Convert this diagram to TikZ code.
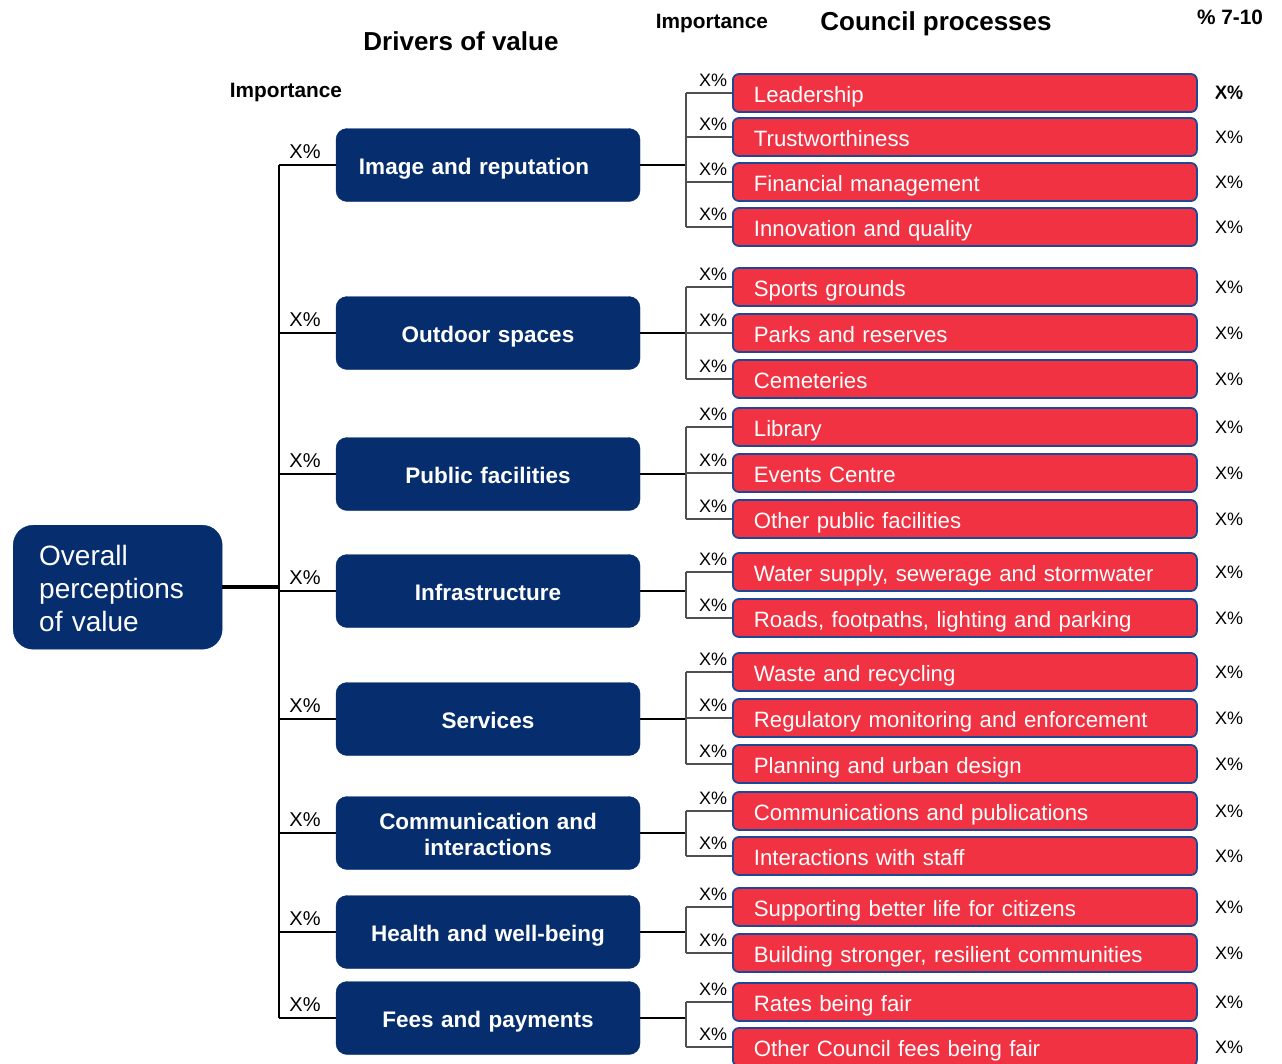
\documentclass[tikz,border=0pt]{standalone}
\usepackage{fontspec}
\setmainfont{Liberation Sans}
\definecolor{navy}{RGB}{6,46,110}
\definecolor{cred}{RGB}{240,50,66}
\definecolor{cborder}{RGB}{30,72,150}
\definecolor{lgray}{RGB}{80,80,80}
\begin{document}
\begin{tikzpicture}[x=1pt,y=-1pt,
  redbox/.style={draw=cborder,line width=1.8pt,fill=cred,rounded corners=6pt,anchor=west,
    minimum width=464pt,minimum height=38pt,inner xsep=21pt,inner ysep=0pt,text width=422pt,align=left,
    text height=24pt,text depth=6pt,
    text=white,font=\fontsize{22.2}{26}\selectfont},
  bluebox/.style={fill=navy,draw=navy,rounded corners=11pt,minimum width=304pt,minimum height=73pt,
    text width=290pt,align=center,text=white,inner sep=0pt,text height=24pt,text depth=5pt,
    font=\fontsize{22.5}{26.3}\selectfont\bfseries},
  trunk/.style={line width=2pt,black},
  bline/.style={line width=1.3pt,black},
  rline/.style={line width=1.3pt,lgray},
  pctA/.style={font=\fontsize{20}{22}\selectfont,inner sep=0pt},
  pctB/.style={font=\fontsize{18}{20}\selectfont,inner sep=0pt},
  pctC/.style={font=\fontsize{18}{20}\selectfont,inner sep=0pt},
  head/.style={font=\fontsize{26}{30}\selectfont\bfseries,inner sep=0pt},
  subhead/.style={font=\fontsize{20.8}{24}\selectfont\bfseries,inner sep=0pt}
]
\useasboundingbox (0,0) rectangle (1282,1063);
\clip (0,0) rectangle (1282,1063);

\newcommand\myredrow[3]{%
  \node[redbox] (#1) at (732,#2) {#3};
  \draw[rline] (#1.west -| kx) -- (#1.west);
  \node[pctB] (#1a) at (713,{#2-13}) {X\%};
  \node[pctC] (#1b) at (1229,#2) {X\%};
}
\newcommand\mybluerow[4][]{%
  \node[bluebox,#1] (#2) at (488,#3) {#4};
  \coordinate (#2j) at (279,#3);
  \draw[bline] (#2j) -- (#2.west);
  \draw[bline] (#2.east) -- (#2.east -| kx);
  \node[pctA] (#2a) at (305,{#3-13}) {X\%};
}

\coordinate (kx) at (686,0);

% headings
\node[head] (h1) at (461,41) {Drivers of value};
\node[head] (h2) at (936,24) {Council processes};
\node[subhead] (h3) at (286,93) {Importance};
\node[subhead] (h4) at (712,24) {Importance};
\node[subhead] (h5) at (1230,17) {\% 7-10};

% overall node
\node[fill=navy,draw=navy,rounded corners=20pt,minimum width=209pt,minimum height=124pt,
  inner xsep=26pt,inner ysep=0pt,text width=157pt,align=left,text=white,anchor=north west,
  text height=20pt,text depth=64pt,
  font=\fontsize{28}{33}\selectfont] (ov) at (13,525) {Overall\\perceptions\\of value};

% drivers
\mybluerow{b1}{165}{\hspace*{-28pt}Image and reputation}
\mybluerow{b2}{333}{Outdoor spaces}
\mybluerow{b3}{474}{Public facilities}
\mybluerow{b4}{591}{Infrastructure}
\mybluerow{b5}{719}{Services}
\mybluerow[text depth=32pt]{b6}{833}{Communication and\\interactions}
\mybluerow{b7}{932}{Health and well-being}
\mybluerow{b8}{1018}{Fees and payments}

\draw[trunk] (b1j) -- (b8j);
\draw[line width=4pt] (ov.east) -- (ov.east -| b1j);

% processes
\myredrow{r1}{93}{Leadership}
\myredrow{r2}{137}{Trustworthiness}
\myredrow{r3}{182}{Financial management}
\myredrow{r4}{227}{Innovation and quality}
\myredrow{r5}{287}{Sports grounds}
\myredrow{r6}{333}{Parks and reserves}
\myredrow{r7}{379}{Cemeteries}
\myredrow{r8}{427}{Library}
\myredrow{r9}{473}{Events Centre}
\myredrow{r10}{519}{Other public facilities}
\myredrow{r11}{572}{Water supply, sewerage and stormwater}
\myredrow{r12}{618}{Roads, footpaths, lighting and parking}
\myredrow{r13}{672}{Waste and recycling}
\myredrow{r14}{718}{Regulatory monitoring and enforcement}
\myredrow{r15}{764}{Planning and urban design}
\myredrow{r16}{811}{Communications and publications}
\myredrow{r17}{856}{Interactions with staff}
\myredrow{r18}{907}{Supporting better life for citizens}
\myredrow{r19}{953}{Building stronger, resilient communities}
\myredrow{r20}{1002}{Rates being fair}
\myredrow{r21}{1047}{Other Council fees being fair}

\node[pctC,fill=white,font=\fontsize{18}{20}\selectfont\bfseries] (r1bb) at (1229,92) {X\%};

\draw[rline] (r1.west -| kx) -- (r4.west -| kx);
\draw[rline] (r5.west -| kx) -- (r7.west -| kx);
\draw[rline] (r8.west -| kx) -- (r10.west -| kx);
\draw[rline] (r11.west -| kx) -- (r12.west -| kx);
\draw[rline] (r13.west -| kx) -- (r15.west -| kx);
\draw[rline] (r16.west -| kx) -- (r17.west -| kx);
\draw[rline] (r18.west -| kx) -- (r19.west -| kx);
\draw[rline] (r20.west -| kx) -- (r21.west -| kx);
\end{tikzpicture}
\end{document}
